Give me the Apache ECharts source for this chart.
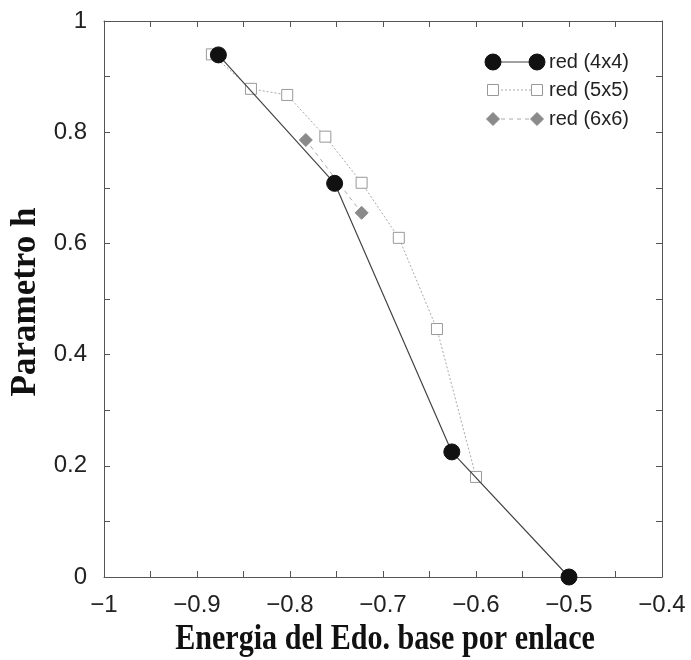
<!DOCTYPE html>
<html>
<head>
<meta charset="UTF-8">
<title>Parametro h</title>
<script src="https://cdn.jsdelivr.net/npm/echarts@6/dist/echarts.min.js"></script>
<style>
body { margin: 0; background: #fff; }
#chart { width: 691px; height: 660px; }
</style>
</head>
<body>
<div id="chart"></div>
<script>
// datos
var red4x4 = [[-0.877, 0.939], [-0.752, 0.708], [-0.626, 0.225], [-0.5, 0.0]];
var red5x5 = [[-0.884, 0.940], [-0.842, 0.878], [-0.803, 0.867], [-0.762, 0.792],
              [-0.723, 0.709], [-0.683, 0.610], [-0.642, 0.446], [-0.600, 0.180]];
var red6x6 = [[-0.783, 0.786], [-0.723, 0.655]];
var names = ['red (4x4)', 'red (5x5)', 'red (6x6)'];

var tickFont = 'Liberation Sans';
var titleFont = 'Liberation Serif';
function fmt(v) {
    var s = String(Math.round(v * 10) / 10);
    return s.replace('-', '\u2212');
}

var chart = echarts.init(document.getElementById('chart'));

// leyenda dibujada a mano: dos marcas y una linea, como en gnuplot
var legendY = [62, 90, 119];
var legendStyle = [
    {sym: 'circle', fill: '#111', stroke: '#111', line: '#444', dash: null, size: 16},
    {sym: 'rect', fill: '#fff', stroke: '#999', line: '#aaa', dash: [2, 2], size: 11},
    {sym: 'diamond', fill: '#8a8a8a', stroke: '#8a8a8a', line: '#aaa', dash: [4, 4], size: 13}
];
var graphics = [];
for (var i = 0; i < names.length; i++) {
    var st = legendStyle[i], y = legendY[i];
    graphics.push({type: 'line', shape: {x1: 493, y1: y, x2: 537, y2: y}, z: 100,
        style: {stroke: st.line, lineWidth: 1, lineDash: st.dash}});
    [493, 537].forEach(function (x) {
        var h = st.size / 2;
        if (st.sym === 'circle') {
            graphics.push({type: 'circle', shape: {cx: x, cy: y, r: h}, z: 101,
                style: {fill: st.fill, stroke: st.stroke}});
        } else if (st.sym === 'rect') {
            graphics.push({type: 'rect', shape: {x: x - h, y: y - h, width: st.size, height: st.size}, z: 101,
                style: {fill: st.fill, stroke: st.stroke, lineWidth: 1}});
        } else {
            graphics.push({type: 'polygon', shape: {points: [[x, y - h], [x + h, y], [x, y + h], [x - h, y]]}, z: 101,
                style: {fill: st.fill, stroke: st.stroke}});
        }
    });
    graphics.push({type: 'text', x: 549, y: y, z: 101,
        style: {text: names[i], fontFamily: tickFont, fontSize: 20, fill: '#222', verticalAlign: 'middle'}});
}
// titulos de los ejes (el de x algo comprimido, como en el original)
graphics.push({type: 'text', x: 26, y: 302, rotation: Math.PI / 2,
    style: {text: 'Parametro h', fontFamily: titleFont, fontWeight: 'bold', fontSize: 35,
        fill: '#111', align: 'center', verticalAlign: 'middle'}});
graphics.push({type: 'text', x: 385, y: 640, scaleX: 0.86,
    style: {text: 'Energia del Edo. base por enlace', fontFamily: titleFont, fontWeight: 'bold', fontSize: 35,
        fill: '#111', align: 'center', verticalAlign: 'middle'}});

var axisCommon = {
    axisLine: {show: true, onZero: false, lineStyle: {color: '#555', width: 1}},
    axisTick: {show: true, inside: true, length: 6, lineStyle: {color: '#555'}},
    minorTick: {show: true, splitNumber: 2, length: 6, lineStyle: {color: '#555'}},
    splitLine: {show: false}
};

var option = {
    backgroundColor: '#fff',
    animation: false,
    grid: {left: 104, right: 29, top: 21, bottom: 83, containLabel: false, outerBoundsMode: 'none'},
    xAxis: [
        Object.assign({
            type: 'value', min: -1, max: -0.4, interval: 0.1, position: 'bottom',
            axisLabel: {formatter: fmt, fontFamily: tickFont, fontSize: 24, color: '#222', margin: 16}
        }, axisCommon),
        Object.assign({
            type: 'value', min: -1, max: -0.4, interval: 0.1, position: 'top',
            axisLabel: {show: false}
        }, axisCommon)
    ],
    yAxis: [
        Object.assign({
            type: 'value', min: 0, max: 1, interval: 0.2, position: 'left',
            axisLabel: {formatter: fmt, fontFamily: tickFont, fontSize: 24, color: '#222', margin: 17}
        }, axisCommon),
        Object.assign({
            type: 'value', min: 0, max: 1, interval: 0.2, position: 'right',
            axisLabel: {show: false}
        }, axisCommon)
    ],
    graphic: graphics,
    series: [
        {
            name: names[1], type: 'line', data: red5x5, z: 2,
            symbol: 'rect', symbolSize: 11, showAllSymbol: true,
            itemStyle: {color: '#fff', borderColor: '#999', borderWidth: 1},
            lineStyle: {color: '#aaa', width: 1, type: [2, 2]}
        },
        {
            name: names[2], type: 'line', data: red6x6, z: 3,
            symbol: 'diamond', symbolSize: 13,
            itemStyle: {color: '#8a8a8a', borderColor: '#8a8a8a'},
            lineStyle: {color: '#aaa', width: 1, type: [4, 4]}
        },
        {
            name: names[0], type: 'line', data: red4x4, z: 4,
            symbol: 'circle', symbolSize: 16,
            itemStyle: {color: '#111', borderColor: '#111'},
            lineStyle: {color: '#444', width: 1.2}
        }
    ]
};
chart.setOption(option);
</script>
</body>
</html>
